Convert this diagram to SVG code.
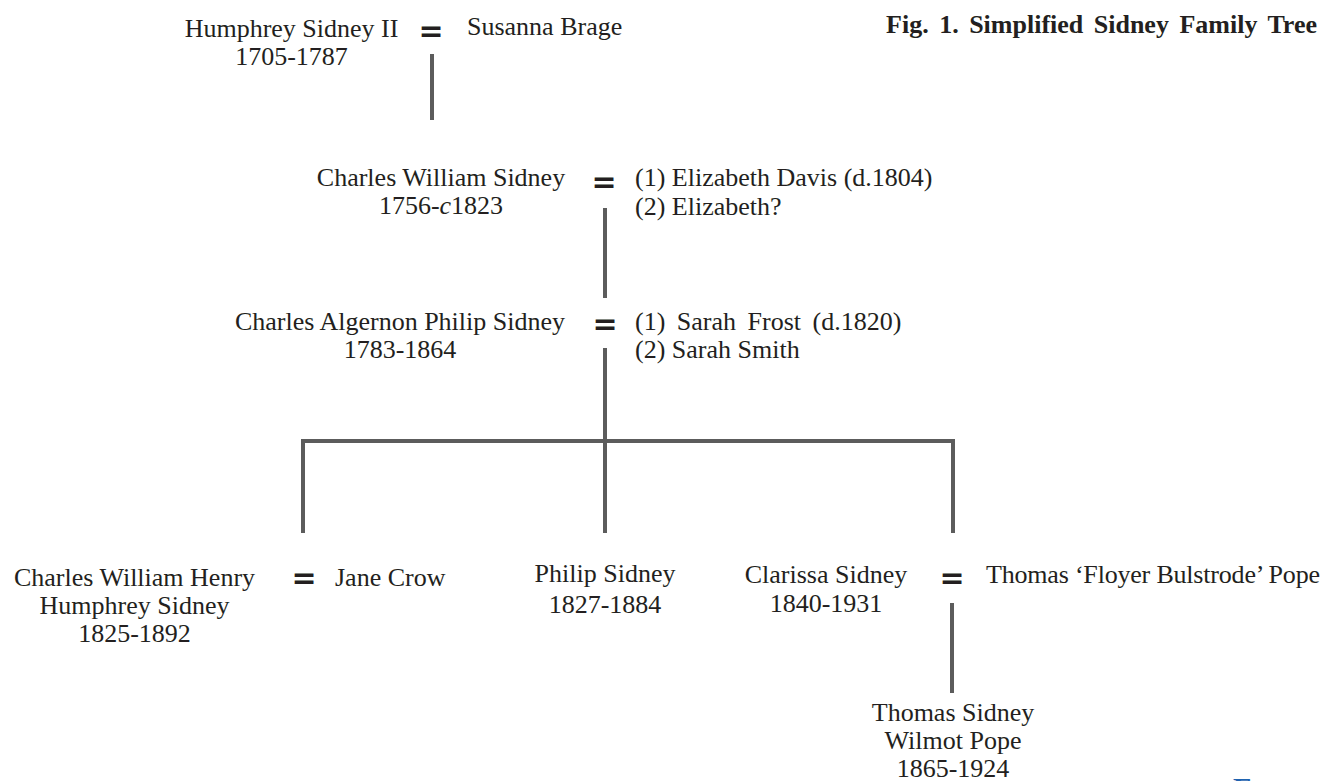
<svg xmlns="http://www.w3.org/2000/svg" width="1323" height="781" viewBox="0 0 1323 781">
<style>
text{font-family:"Liberation Serif","Times New Roman",serif;font-size:26px;fill:#231f20}
.c{text-anchor:middle}
.eq{font-family:"DejaVu Sans",sans-serif;font-weight:bold;font-size:30px;text-anchor:middle}
.title{font-weight:bold;text-anchor:end;word-spacing:4px}
.ln{fill:none;stroke:#5c5c5c;stroke-width:4;stroke-linejoin:miter}
</style>
<rect width="1323" height="781" fill="#fff"/>
<g id="connectors">
<path class="ln" d="M432,54V120"/>
<path class="ln" d="M605,208V298"/>
<path class="ln" d="M605,348V533"/>
<path class="ln" d="M303,533V441H953V533"/>
<path class="ln" d="M952,603V693"/>
</g>
<g id="title"><text class="title" x="1317" y="33">Fig. 1. Simplified Sidney Family Tree</text></g>
<g id="humphrey"><text class="c" x="291.5" y="37">Humphrey Sidney II</text><text class="c" x="291.5" y="65">1705-1787</text></g>
<g id="marriage1"><text class="eq" x="431" y="41">=</text></g>
<g id="susanna"><text x="467" y="35">Susanna Brage</text></g>
<g id="charles-william"><text class="c" x="441" y="186">Charles William Sidney</text><text class="c" x="441" y="214">1756-<tspan font-style="italic">c</tspan>1823</text></g>
<g id="marriage2"><text class="eq" x="604" y="192">=</text></g>
<g id="elizabeths"><text x="635" y="186">(1) Elizabeth Davis (d.1804)</text><text x="635" y="215">(2) Elizabeth?</text></g>
<g id="charles-algernon"><text class="c" x="400" y="330">Charles Algernon Philip Sidney</text><text class="c" x="400" y="358">1783-1864</text></g>
<g id="marriage3"><text class="eq" x="605" y="334">=</text></g>
<g id="sarahs"><text x="635" y="330" style="word-spacing:5px">(1) Sarah Frost (d.1820)</text><text x="635" y="358">(2) Sarah Smith</text></g>
<g id="charles-william-henry"><text class="c" x="134.5" y="586">Charles William Henry</text><text class="c" x="134.5" y="614">Humphrey Sidney</text><text class="c" x="134.5" y="642">1825-1892</text></g>
<g id="marriage4"><text class="eq" x="304" y="588">=</text></g>
<g id="jane"><text x="335" y="586">Jane Crow</text></g>
<g id="philip"><text class="c" x="605" y="582">Philip Sidney</text><text class="c" x="605" y="613">1827-1884</text></g>
<g id="clarissa"><text class="c" x="826" y="583">Clarissa Sidney</text><text class="c" x="826" y="612">1840-1931</text></g>
<g id="marriage5"><text class="eq" x="952" y="588">=</text></g>
<g id="thomas-fb"><text x="986" y="583" textLength="334">Thomas ‘Floyer Bulstrode’ Pope</text></g>
<g id="thomas-sw"><text class="c" x="953" y="721">Thomas Sidney</text><text class="c" x="953" y="749">Wilmot Pope</text><text class="c" x="953" y="777">1865-1924</text></g>
<g id="fragment"><text x="1233" y="798" style="font-size:30px;font-weight:bold;fill:#1f63b0">F</text></g>
</svg>
